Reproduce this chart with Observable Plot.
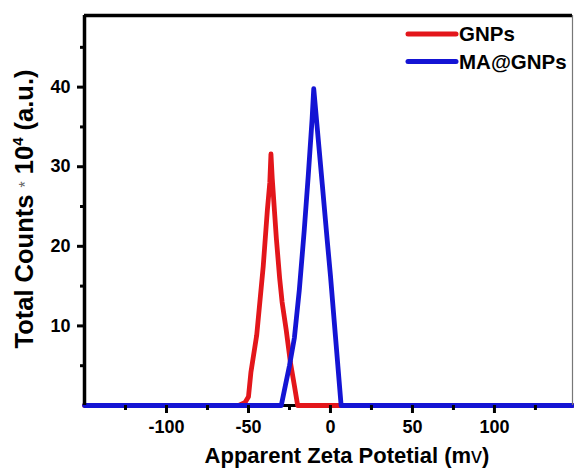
<!DOCTYPE html>
<html>
<head>
<meta charset="utf-8">
<script src="https://cdn.jsdelivr.net/npm/d3@7"></script>
<script src="https://cdn.jsdelivr.net/npm/@observablehq/plot@0.6"></script>
<style>
  html, body { margin: 0; padding: 0; background: #fff; }
  #chart { width: 574px; height: 472px; }
</style>
</head>
<body>
<div id="chart"></div>
<script>
// ---- data ----
const seriesNames = ["GNPs", "MA@GNPs"];
const seriesColors = ["#e3161b", "#1414d4"];

const gnpX = [-150, -56, -52, -50, -48.5, -45, -41, -38.5, -37, -36.3, -35.5, -33, -31, -29.5, -27, -24.5, -22, -20, 147.6];
const gnpY = [0, 0, 0.4, 1.1, 4.2, 8.8, 17.5, 24.5, 28, 31.6, 28.5, 21, 16, 13, 9.5, 5.5, 2.5, 0, 0];

const maX = [-150, -30, -27.5, -25, -22, -19, -16, -13.5, -11.2, -10.2, -8, -5, -2, 0, 3, 6.5, 147.6];
const maY = [0, 0, 2.5, 5, 8.5, 14.5, 22, 29, 36, 39.8, 34.7, 27.8, 20.8, 16.3, 8.8, 0, 0];

const xTicks = [-100, -50, 0, 50, 100];
const xMinorTicks = [-125, -75, -25, 25, 75, 125];
const yTicks = [10, 20, 30, 40];
const yMinorTicks = [5, 15, 25, 35, 45];
const xDomain = [-150, 147.6];
const yDomain = [0, 49];

const xTitle = "Apparent Zeta Potetial (m";
const xTitleUnit = "v";
const yTitle = ["Total Counts ", "*", " 10", "4", " (a.u.)"];

// ---- tables ----
const gnp = gnpX.map((x, i) => ({x, y: gnpY[i]}));
const ma = maX.map((x, i) => ({x, y: maY[i]}));

const font = "'Liberation Sans', Arial, sans-serif";

const plot = Plot.plot({
  width: 574,
  height: 472,
  marginLeft: 84,
  marginRight: 2,
  marginTop: 15,
  marginBottom: 67,
  x: {domain: xDomain},
  y: {domain: yDomain},
  style: {fontFamily: font, background: "#fff", color: "#000"},
  marks: [
    Plot.ruleY([yDomain[0]], {stroke: "#000", strokeWidth: 3}),
    Plot.line(gnp, {x: "x", y: "y", stroke: seriesColors[0], strokeWidth: 4.8, strokeLinejoin: "round"}),
    Plot.line(ma, {x: "x", y: "y", stroke: seriesColors[1], strokeWidth: 4.8, strokeLinejoin: "round"}),
    Plot.ruleX([xDomain[0]], {stroke: "#000", strokeWidth: 3.5}),
    Plot.ruleY([yDomain[1]], {stroke: "#000", strokeWidth: 3.5}),
    Plot.ruleX([xDomain[1]], {stroke: "#777", strokeWidth: 1.2}),
    Plot.axisX({ticks: xTicks, tickSize: 8, tickPadding: 7, strokeWidth: 3, fontSize: 18, fontWeight: "bold", tickFormat: d => String(d), label: null}),
    Plot.axisX({ticks: xMinorTicks, tickSize: 5, strokeWidth: 3, tickFormat: () => "", label: null}),
    Plot.axisY({ticks: yTicks, tickSize: 7, tickPadding: 7, strokeWidth: 3, fontSize: 18, fontWeight: "bold", tickFormat: d => String(d), label: null}),
    Plot.axisY({ticks: yMinorTicks, tickSize: 4, strokeWidth: 3, tickFormat: () => "", label: null})
  ]
});

document.getElementById("chart").appendChild(plot);

// ---- titles & legend ----
const svg = d3.select(plot);

const xt = svg.append("text")
  .attr("x", 347).attr("y", 463)
  .attr("text-anchor", "middle")
  .attr("font-family", font)
  .attr("font-size", 22)
  .attr("font-weight", "bold")
  .attr("fill", "#000");
xt.append("tspan").text(xTitle);
xt.append("tspan").attr("font-weight", "normal").text(xTitleUnit);
xt.append("tspan").text(")");

const yt = svg.append("text")
  .attr("transform", "translate(33,209) rotate(-90)")
  .attr("text-anchor", "middle")
  .attr("font-family", font)
  .attr("font-size", 25.5)
  .attr("font-weight", "bold")
  .attr("fill", "#000");
yt.append("tspan").text(yTitle[0]);
yt.append("tspan").attr("font-size", 16).attr("font-weight", "normal").attr("fill", "#666").attr("dy", -2).text(yTitle[1]);
yt.append("tspan").attr("dy", 2).text(yTitle[2]);
yt.append("tspan").attr("font-size", 15).attr("dy", -10).text(yTitle[3]);
yt.append("tspan").attr("dy", 10).text(yTitle[4]);

const legend = svg.append("g").attr("font-family", font).attr("text-anchor", "start");
seriesNames.forEach((name, i) => {
  const cy = 34 + i * 27.5;
  legend.append("line")
    .attr("x1", 408).attr("x2", 456)
    .attr("y1", cy).attr("y2", cy)
    .attr("stroke", seriesColors[i])
    .attr("stroke-width", 5)
    .attr("stroke-linecap", "round");
  legend.append("text")
    .attr("x", 459).attr("y", cy).attr("dy", "0.36em")
    .attr("text-anchor", "start")
    .attr("font-size", 20.5)
    .attr("font-weight", "bold")
    .attr("fill", "#000")
    .text(name);
});
</script>
</body>
</html>
